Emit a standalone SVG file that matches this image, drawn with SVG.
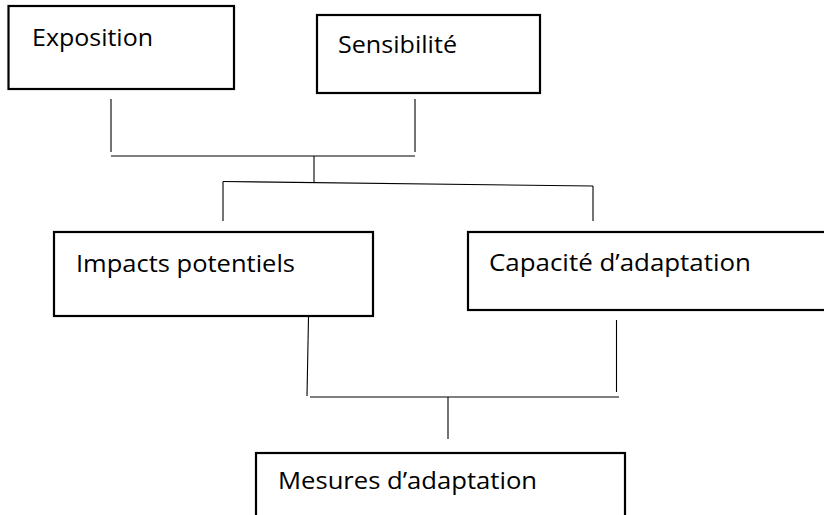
<svg xmlns="http://www.w3.org/2000/svg" width="824" height="515" viewBox="0 0 824 515">
<style>
.box{fill:#fff;stroke:#000;stroke-width:2.2}
.lbl{font-family:"Open Sans","Liberation Sans",sans-serif;font-size:23px;fill:#000}
.conn line{stroke:#000;stroke-width:1.1}
</style>
<rect width="824" height="515" fill="#fff"/>
<g id="exposition">
<rect class="box" x="8.5" y="6" width="225.5" height="83"/>
<text class="lbl" x="32" y="46" textLength="121" lengthAdjust="spacingAndGlyphs">Exposition</text>
</g>
<g id="sensibilite">
<rect class="box" x="317" y="15" width="223" height="78"/>
<text class="lbl" x="338" y="53" textLength="119" lengthAdjust="spacingAndGlyphs">Sensibilité</text>
</g>
<g id="impacts">
<rect class="box" x="54" y="232" width="319" height="84"/>
<text class="lbl" x="76" y="272" textLength="219" lengthAdjust="spacingAndGlyphs">Impacts potentiels</text>
</g>
<g id="capacite">
<rect class="box" x="468" y="232" width="360" height="78"/>
<text class="lbl" x="489" y="271" textLength="262" lengthAdjust="spacingAndGlyphs">Capacité d’adaptation</text>
</g>
<g id="mesures">
<rect class="box" x="256" y="453" width="369" height="80"/>
<text class="lbl" x="278" y="489" textLength="259" lengthAdjust="spacingAndGlyphs">Mesures d’adaptation</text>
</g>
<g id="connectors" class="conn">
<line x1="111" y1="99" x2="111" y2="152"/>
<line x1="415" y1="99" x2="415" y2="152"/>
<line x1="111" y1="156" x2="415" y2="156"/>
<line x1="314" y1="156" x2="314" y2="182"/>
<line x1="223" y1="181.5" x2="593" y2="186"/>
<line x1="223" y1="181.5" x2="223" y2="221"/>
<line x1="593" y1="186" x2="593" y2="221"/>
<line x1="308.5" y1="317" x2="307" y2="396"/>
<line x1="616.5" y1="320" x2="616.5" y2="392"/>
<line x1="310" y1="397" x2="619" y2="397"/>
<line x1="448" y1="397" x2="448" y2="439"/>
</g>
</svg>
